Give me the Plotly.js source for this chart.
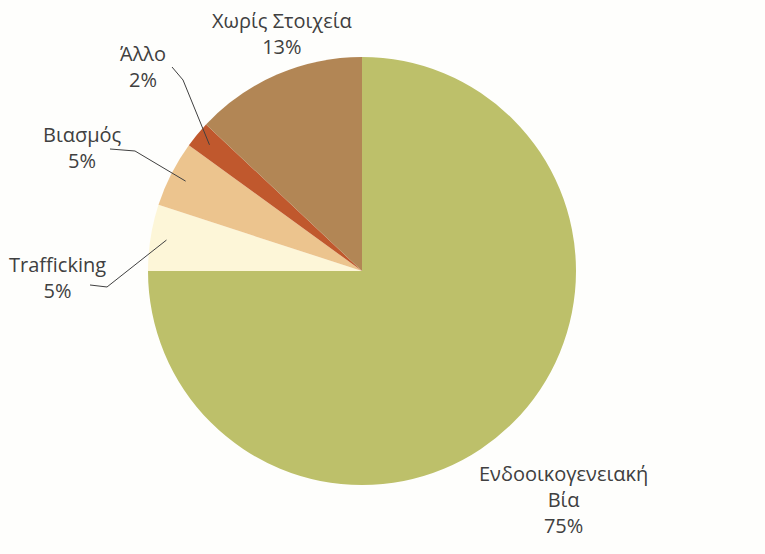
<!DOCTYPE html>
<html>
<head>
<meta charset="utf-8">
<script src="https://cdn.plot.ly/plotly-3.0.1.min.js"></script>
<style>html,body{margin:0;padding:0;background:#fefefc;}#chart{width:765px;height:554px;}</style>
</head>
<body>
<div id="chart"></div>
<script>
// Data
const categories = ["Ενδοοικογενειακή Βία", "Trafficking", "Βιασμός", "Άλλο", "Χωρίς Στοιχεία"];
const labelText = ["Ενδοοικογενειακή<br>Βία", "Trafficking", "Βιασμός", "Άλλο", "Χωρίς Στοιχεία"];
const values = [75, 5, 5, 2, 13];
const colors = ["#bdc06a", "#fdf6d8", "#ecc48e", "#c0582d", "#b28655"];

// Layout (pixel positions of labels; styling only)
const W = 765, H = 554;
const cx = 362, cy = 271, R = 214;
const labelPos = [[563, 499], [58, 277], [82, 147], [143, 66], [282, 34]];
// leader line start & elbow (pixels), null = no line
const leaders = [null, [[90, 285], [107, 287]], [[110, 149], [135, 151]], [[172, 67], [183, 80]], null];

const total = values.reduce((a, b) => a + b, 0);
let cum = 0;
const annotations = [];
const shapes = [];
values.forEach((v, i) => {
  const mid = (cum + v / 2) / total * 2 * Math.PI; // clockwise from 12 o'clock
  cum += v;
  const pct = Math.round(v / total * 100) + "%";
  annotations.push({
    xref: "paper", yref: "paper",
    x: labelPos[i][0] / W, y: 1 - labelPos[i][1] / H,
    xanchor: "center", yanchor: "middle",
    text: labelText[i] + "<br>" + pct,
    showarrow: false, align: "center",
    font: {family: "Open Sans, sans-serif", size: 20, color: "#404040"}
  });
  if (leaders[i]) {
    const tx = cx + 0.925 * R * Math.sin(mid);
    const ty = cy - 0.925 * R * Math.cos(mid);
    const p = [leaders[i][0], leaders[i][1], [tx, ty]];
    const path = p.map((q, k) => (k ? "L" : "M") + (q[0] / W).toFixed(5) + "," + (1 - q[1] / H).toFixed(5)).join(" ");
    shapes.push({type: "path", xref: "paper", yref: "paper", path: path,
      line: {color: "#404040", width: 1}});
  }
});

const trace = {
  type: "pie",
  labels: categories,
  values: values,
  marker: {colors: colors, line: {width: 0}},
  sort: false,
  direction: "clockwise",
  rotation: 0,
  textinfo: "none",
  hoverinfo: "label+percent",
  domain: {x: [(cx - R) / W, (cx + R) / W], y: [(H - cy - R) / H, (H - cy + R) / H]}
};

Plotly.newPlot("chart", [trace], {
  width: W, height: H,
  margin: {l: 0, r: 0, t: 0, b: 0},
  paper_bgcolor: "#fefefc",
  showlegend: false,
  annotations: annotations,
  shapes: shapes
}, {displayModeBar: false});
</script>
</body>
</html>
